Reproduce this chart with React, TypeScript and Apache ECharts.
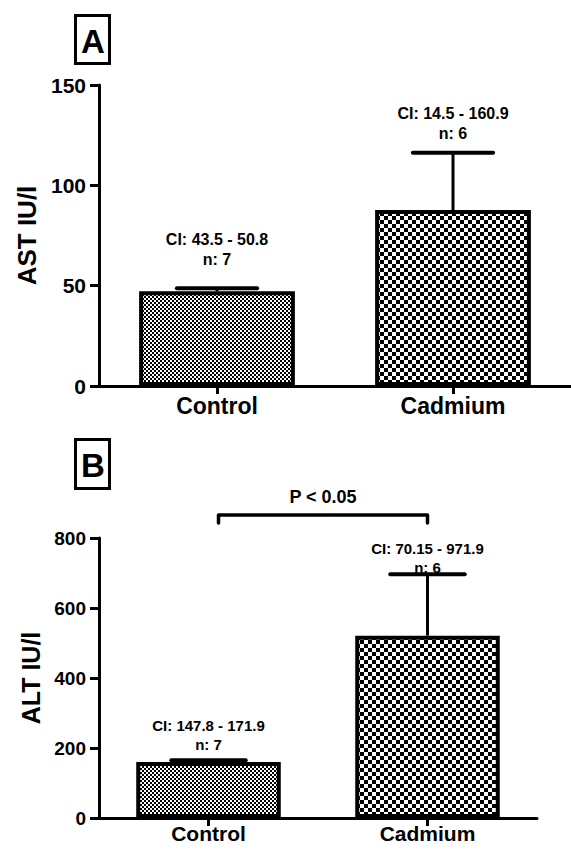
import React, { useEffect, useRef } from "react";
import * as echarts from "echarts";

const categories = ["Control", "Cadmium"];
const astMean = [47.2, 87.7];
const astUpper = [48.7, 116.2];
const altMean = [159.9, 521];
const altUpper = [164.8, 696.4];
const astAxis = { min: 0, max: 150, interval: 50 };
const altAxis = { min: 0, max: 800, interval: 200 };
const astCI = ["CI: 43.5 - 50.8", "CI: 14.5 - 160.9"];
const astN = ["n: 7", "n: 6"];
const altCI = ["CI: 147.8 - 171.9", "CI: 70.15 - 971.9"];
const altN = ["n: 7", "n: 6"];
const astAnnotAnchor = [73.2, 136];
const altAnnotAnchor = [265.7, 771];
const pText = "P < 0.05";
const bracketLevel = [866, 843];

const FONT = "'Liberation Sans', Arial, Helvetica, sans-serif";

function makeChecker(cell: number) {
  const c = document.createElement("canvas");
  c.width = cell * 2;
  c.height = cell * 2;
  const ctx = c.getContext("2d")!;
  ctx.fillStyle = "#fff";
  ctx.fillRect(0, 0, cell * 2, cell * 2);
  ctx.fillStyle = "#000";
  ctx.fillRect(0, 0, cell, cell);
  ctx.fillRect(cell, cell, cell, cell);
  return c;
}

export default function App() {
  const ref = useRef<HTMLDivElement>(null);
  useEffect(() => {
    if (!ref.current) return;
    const chart = echarts.init(ref.current, null, { renderer: "svg" });
    const fine = makeChecker(2);
    const coarse = makeChecker(4);
    const finePattern: any = { image: fine, repeat: "repeat", imageWidth: 4, imageHeight: 4 };
    const coarsePattern: any = { image: coarse, repeat: "repeat", imageWidth: 8, imageHeight: 8 };

    const errorRender = (params: any, api: any) => {
      const x = api.value(0);
      const base = api.coord([x, api.value(1)]);
      const top = api.coord([x, api.value(2)]);
      const half = api.size([1, 0])[0] * 0.17;
      return {
        type: "group",
        children: [
          { type: "line", shape: { x1: base[0], y1: base[1], x2: top[0], y2: top[1] }, style: { stroke: "#000", lineWidth: 3 } },
          { type: "line", shape: { x1: top[0] - half, y1: top[1], x2: top[0] + half, y2: top[1] }, style: { stroke: "#000", lineWidth: 4, lineCap: "round" } },
        ],
      };
    };

    const annotRender = (ci: string[], n: string[], size: number, gap: number) => (params: any, api: any) => {
      const p = api.coord([api.value(0), api.value(1)]);
      const i = params.dataIndex;
      const st = (t: string) => ({ text: t, fill: "#000", fontSize: size, fontWeight: "bold", fontFamily: FONT, align: "center", verticalAlign: "middle" });
      return {
        type: "group",
        children: [
          { type: "text", x: p[0], y: p[1], style: st(ci[i]) },
          { type: "text", x: p[0], y: p[1] + gap, style: st(n[i]) },
        ],
      };
    };

    const bracketRender = (params: any, api: any) => {
      const a = api.coord([api.value(0), api.value(2)]);
      const b = api.coord([api.value(1), api.value(2)]);
      const drop = api.coord([api.value(0), api.value(3)])[1];
      const x1 = a[0] + 10;
      const x2 = b[0];
      return {
        type: "group",
        children: [
          { type: "polyline", shape: { points: [[x1, drop], [x1, a[1]], [x2, a[1]], [x2, drop]] }, style: { stroke: "#000", fill: null, lineWidth: 3.5, lineJoin: "round", lineCap: "round" } },
          { type: "text", x: (x1 + x2) / 2, y: a[1] - 18, style: { text: pText, fill: "#000", fontSize: 18, fontWeight: "bold", fontFamily: FONT, align: "center", verticalAlign: "middle" } },
        ],
      };
    };

    const yAxisCfg = (gi: number, ax: any, name: string, labelSize: number, nameSize: number) => ({
      gridIndex: gi,
      type: "value",
      min: ax.min,
      max: ax.max,
      interval: ax.interval,
      name,
      nameLocation: "middle",
      nameRotate: 90,
      nameGap: 56,
      nameTextStyle: { fontSize: nameSize, fontWeight: "bold", fontFamily: FONT, color: "#000" },
      axisLine: { show: true, lineStyle: { color: "#000", width: 3 } },
      axisTick: { show: true, length: 9, lineStyle: { color: "#000", width: 3 } },
      axisLabel: { fontSize: labelSize, fontWeight: "bold", fontFamily: FONT, color: "#000", margin: 13 },
      splitLine: { show: false },
    });
    const xAxisCfg = (gi: number, labelSize: number, margin: number) => ({
      gridIndex: gi,
      type: "category",
      data: categories,
      axisLine: { show: true, lineStyle: { color: "#000", width: 3 } },
      axisTick: { show: true, alignWithLabel: true, length: 8, lineStyle: { color: "#000", width: 3 } },
      axisLabel: { fontSize: labelSize, fontWeight: "bold", fontFamily: FONT, color: "#000", margin },
      splitLine: { show: false },
    });

    const barData = (vals: number[]) =>
      vals.map((v, i) => ({ value: v, itemStyle: { color: i === 0 ? finePattern : coarsePattern } }));

    chart.setOption({
      animation: false,
      backgroundColor: "#fff",
      grid: [
        { left: 99, top: 85, width: 472, height: 301 },
        { left: 99, top: 538, width: 438, height: 280 },
      ],
      xAxis: [xAxisCfg(0, 23, 8), xAxisCfg(1, 21, 5)],
      yAxis: [yAxisCfg(0, astAxis, "AST IU/l", 21, 26), yAxisCfg(1, altAxis, "ALT IU/l", 19, 25)],
      series: [
        { type: "bar", xAxisIndex: 0, yAxisIndex: 0, barWidth: "66%", data: barData(astMean), itemStyle: { borderColor: "#000", borderWidth: 4 }, z: 2 },
        { type: "bar", xAxisIndex: 1, yAxisIndex: 1, barWidth: "66%", data: barData(altMean), itemStyle: { borderColor: "#000", borderWidth: 4 }, z: 2 },
        { type: "custom", xAxisIndex: 0, yAxisIndex: 0, renderItem: errorRender, data: astMean.map((m, i) => [i, m, astUpper[i]]), z: 3 },
        { type: "custom", xAxisIndex: 1, yAxisIndex: 1, renderItem: errorRender, data: altMean.map((m, i) => [i, m, altUpper[i]]), z: 3 },
        { type: "custom", xAxisIndex: 0, yAxisIndex: 0, renderItem: annotRender(astCI, astN, 16, 20), data: astAnnotAnchor.map((v, i) => [i, v]), z: 4 },
        { type: "custom", xAxisIndex: 1, yAxisIndex: 1, renderItem: annotRender(altCI, altN, 15, 19), data: altAnnotAnchor.map((v, i) => [i, v]), z: 4 },
        { type: "custom", xAxisIndex: 1, yAxisIndex: 1, renderItem: bracketRender, data: [[0, 1, bracketLevel[0], bracketLevel[1]]], z: 4 },
      ],
      graphic: [
        { type: "rect", shape: { x: 75.5, y: 15.5, width: 34, height: 48 }, style: { fill: "#fff", stroke: "#000", lineWidth: 3 } },
        { type: "text", x: 93, y: 41, style: { text: "A", fill: "#000", fontSize: 33, fontWeight: "bold", fontFamily: FONT, align: "center", verticalAlign: "middle" } },
        { type: "rect", shape: { x: 75.5, y: 439.5, width: 34, height: 49 }, style: { fill: "#fff", stroke: "#000", lineWidth: 3 } },
        { type: "text", x: 93, y: 465, style: { text: "B", fill: "#000", fontSize: 33, fontWeight: "bold", fontFamily: FONT, align: "center", verticalAlign: "middle" } },
      ],
    });
    return () => chart.dispose();
  }, []);
  return <div ref={ref} style={{ position: "absolute", left: 0, top: 0, width: 571, height: 850 }} />;
}
